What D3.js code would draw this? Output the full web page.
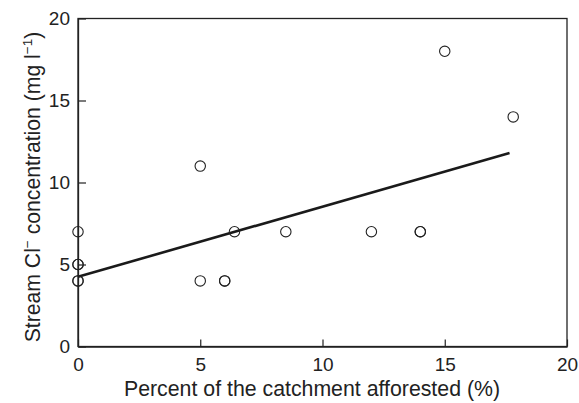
<!DOCTYPE html>
<html>
<head>
<meta charset="utf-8">
<script src="https://cdn.jsdelivr.net/npm/d3@7"></script>
<style>
  body { margin: 0; background: #fff; }
  text { font-family: "Liberation Sans", Arial, sans-serif; fill: #222; }
</style>
</head>
<body>
<div id="chart-area"></div>
<script>
const chartAreaWidth = 579
const chartAreaHeight = 403

const margin = {top: 18.5, right: 12, bottom: 56.5, left: 78}
const width = chartAreaWidth - margin.left - margin.right;
const height = chartAreaHeight - margin.top - margin.bottom;

// values (duplicates overlap -> darker rings)
const afforested = [0, 0, 0, 0, 0, 5, 5, 6, 6, 6.4, 8.5, 12, 14, 14, 15, 17.8];
const chloride   = [7, 5, 5, 4, 4, 11, 4, 4, 4, 7, 7, 7, 7, 7, 18, 14];

// fitted line end points
const fitX = [0, 17.65];
const fitY = [4.25, 11.8];

const xTicks = [0, 5, 10, 15, 20];
const yTicks = [0, 5, 10, 15, 20];

const svg = d3.select("#chart-area").append("svg")
    .attr("width", chartAreaWidth)
    .attr("height", chartAreaHeight);

const g = svg.append("g")
    .attr("transform", `translate(${margin.left}, ${margin.top})`);

const x = d3.scaleLinear().domain([0, 20]).range([0, width]);
const y = d3.scaleLinear().domain([0, 20]).range([height, 0]);

// frame
g.append("rect")
    .attr("width", width)
    .attr("height", height)
    .attr("fill", "none")
    .attr("stroke", "#222")
    .attr("stroke-width", 1.3);

const xAxis = d3.axisBottom(x)
    .tickValues(xTicks)
    .tickSizeInner(-7)
    .tickSizeOuter(0)
    .tickPadding(11);

const yAxis = d3.axisLeft(y)
    .tickValues(yTicks)
    .tickSizeInner(-8)
    .tickSizeOuter(0)
    .tickPadding(8);

const gx = g.append("g")
    .attr("class", "x axis")
    .attr("transform", "translate(0," + height + ")")
    .call(xAxis);

const gy = g.append("g")
    .attr("class", "y axis")
    .call(yAxis);

[gx, gy].forEach(a => {
    a.select(".domain").attr("stroke", "#222").attr("stroke-width", 1.3);
    a.selectAll(".tick line").attr("stroke", "#222").attr("stroke-width", 1.2);
    a.selectAll(".tick text")
        .attr("font-size", "19px")
        .attr("font-family", "Liberation Sans, Arial, sans-serif")
        .attr("fill", "#222");
});

// regression line
const line = d3.line()
    .x(d => x(d[0]))
    .y(d => y(d[1]));

g.append("path")
    .datum(d3.zip(fitX, fitY))
    .attr("fill", "none")
    .attr("stroke", "#1a1a1a")
    .attr("stroke-width", 2.6)
    .attr("d", line);

// points
g.selectAll("circle.pt")
    .data(d3.zip(afforested, chloride))
    .join("circle")
    .attr("class", "pt")
    .attr("cx", d => x(d[0]))
    .attr("cy", d => y(d[1]))
    .attr("r", 5.2)
    .attr("fill", "none")
    .attr("stroke", "#222")
    .attr("stroke-width", 1.1);

// X axis label
svg.append("text")
    .attr("x", 312)
    .attr("y", 396)
    .attr("font-size", "21.3px")
    .attr("text-anchor", "middle")
    .text("Percent of the catchment afforested (%)");

// Y axis label
const yl = svg.append("text")
    .attr("transform", "translate(40, 187) rotate(-90)")
    .attr("font-size", "21.2px")
    .attr("text-anchor", "middle");
yl.append("tspan").text("Stream Cl");
yl.append("tspan").attr("font-size", "13.5px").attr("dy", -8).text("\u2212");
yl.append("tspan").attr("dy", 8).text(" concentration (mg l");
yl.append("tspan").attr("font-size", "13.5px").attr("dy", -8).text("\u22121");
yl.append("tspan").attr("dy", 8).text(")");
</script>
</body>
</html>
